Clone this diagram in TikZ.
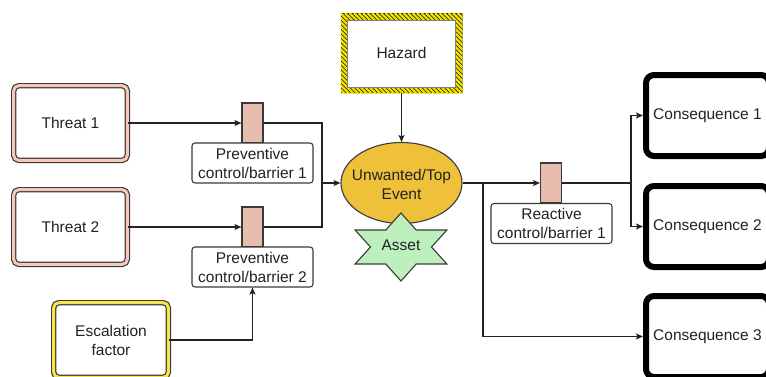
\documentclass[tikz,border=0pt]{standalone}
\usepackage{fontspec}
\setmainfont{Liberation Sans}
\usetikzlibrary{shapes.geometric,arrows.meta}
\definecolor{ink}{HTML}{222222}
\definecolor{edge}{HTML}{3A3A3A}
\definecolor{threatband}{HTML}{F5C8B9}
\definecolor{escband}{HTML}{F4E64A}
\definecolor{barfill}{HTML}{E6BDAF}
\definecolor{eventfill}{HTML}{EFC13A}
\definecolor{assetfill}{HTML}{BDF0BD}
\definecolor{hazyellow}{HTML}{F0E000}
\tikzset{
  txt/.style={font=\fontsize{15.5}{19}\selectfont, text=ink, align=center},
  banded/.style={txt, draw=edge, line width=1.2pt, double distance=3pt,
    fill=white, rounded corners=5pt, inner sep=0pt},
  threatbox/.style={banded, double=threatband, minimum width=113.6pt, minimum height=74.6pt},
  escbox/.style={banded, double=escband, minimum width=114.6pt, minimum height=74.6pt},
  barrier/.style={draw=edge, line width=1.1pt, fill=barfill, minimum width=21pt,
    minimum height=40pt, inner sep=0pt},
  barlabel/.style={txt, draw=edge, line width=1.1pt, fill=white, rounded corners=3pt,
    minimum width=121pt, minimum height=40pt, inner sep=0pt},
  eventnode/.style={ellipse, draw=edge, line width=1.1pt, fill=eventfill,
    minimum width=121pt, minimum height=81pt, inner sep=0pt},
  consbox/.style={txt, draw=black, line width=6pt, fill=white, rounded corners=8pt,
    minimum width=123pt, minimum height=81pt, inner sep=0pt},
  hazardbox/.style={txt, minimum width=122pt, minimum height=80pt, inner sep=0pt,
    path picture={
      \fill[black!90] (path picture bounding box.south west) rectangle
        (path picture bounding box.north east);
      \foreach \k in {-90,-85.5,...,130}
        \draw[line width=2.4pt, hazyellow]
          ([shift={(\k,0)}]path picture bounding box.north west) -- ++(90,90);
      \filldraw[fill=white, draw=gray, line width=0.6pt]
        ([shift={(7,7)}]path picture bounding box.north west) rectangle
        ([shift={(-7,-6)}]path picture bounding box.south east);
    }},
  arr/.style={draw=ink, line width=1.2pt, -{Stealth[length=7pt,width=6pt,inset=1.5pt]}},
  wire/.style={draw=ink, line width=1.2pt},
}
\begin{document}
\begin{tikzpicture}[x=1pt, y=-1pt]
\clip (0,0) rectangle (766,376);

% threats and escalation factor
\node[threatbox] (t1) at (70.5,123) {Threat 1};
\node[threatbox] (t2) at (70.5,227) {Threat 2};
\node[escbox] (esc) at (111,340) {Escalation\\factor};

% preventive barriers
\node[barrier] (bar1) at (252.5,123) {};
\node[barlabel] (lab1) at (252.5,163) {Preventive\\control/barrier 1};
\node[barrier] (bar2) at (252.5,227) {};
\node[barlabel] (lab2) at (252.5,267) {Preventive\\control/barrier 2};

% hazard and top event
\node[hazardbox] (hazard) at (401.5,53) {Hazard};
\node[eventnode] (top) at (401.5,183) {};
\node[txt] (toptext) at (401.5,184) {Unwanted/Top\\Event};

% asset star
\begin{scope}[shift={(401,247)}]
\filldraw[fill=assetfill, draw=edge, line width=1.1pt]
  (90:53 and 34) -- (120:30.5 and 19.6) -- (150:53 and 34) -- (180:30.5 and 19.6)
  -- (210:53 and 34) -- (240:30.5 and 19.6) -- (270:53 and 34) -- (300:30.5 and 19.6)
  -- (330:53 and 34) -- (0:30.5 and 19.6) -- (30:53 and 34) -- (60:30.5 and 19.6) -- cycle;
\end{scope}
\node[txt] (asset) at (401,245) {Asset};

% reactive barrier
\node[barrier] (rbar) at (551,183) {};
\node[barlabel] (rlab) at (551.5,223.5) {Reactive\\control/barrier 1};

% consequences
\node[consbox] (c1) at (707.5,115.5) {Consequence 1};
\node[consbox] (c2) at (707.5,226.5) {Consequence 2};
\node[consbox] (c3) at (707.5,336.5) {Consequence 3};

% junctions
\coordinate (j1) at (322,183);
\coordinate (j2) at (483,183);
\coordinate (j3) at (631,183);

% connectors
\draw[arr] (t1.east) -- (bar1.west);
\draw[arr] (t2.east) -- (bar2.west);
\draw[arr] (esc.east) -| (lab2.south);
\draw[wire] (bar1.east) -| (j1);
\draw[wire] (bar2.east) -| (j1);
\draw[arr] (j1) -- (top.west);
\draw[arr] (hazard.south) -- (top.north);
\draw[arr] (top.east) -- (rbar.west);
\draw[arr] (j2) |- (c3.west);
\draw[wire] (rbar.east) -- (j3);
\draw[arr] (j3) |- (c1.west);
\draw[arr] (j3) |- (c2.west);
\end{tikzpicture}
\end{document}
